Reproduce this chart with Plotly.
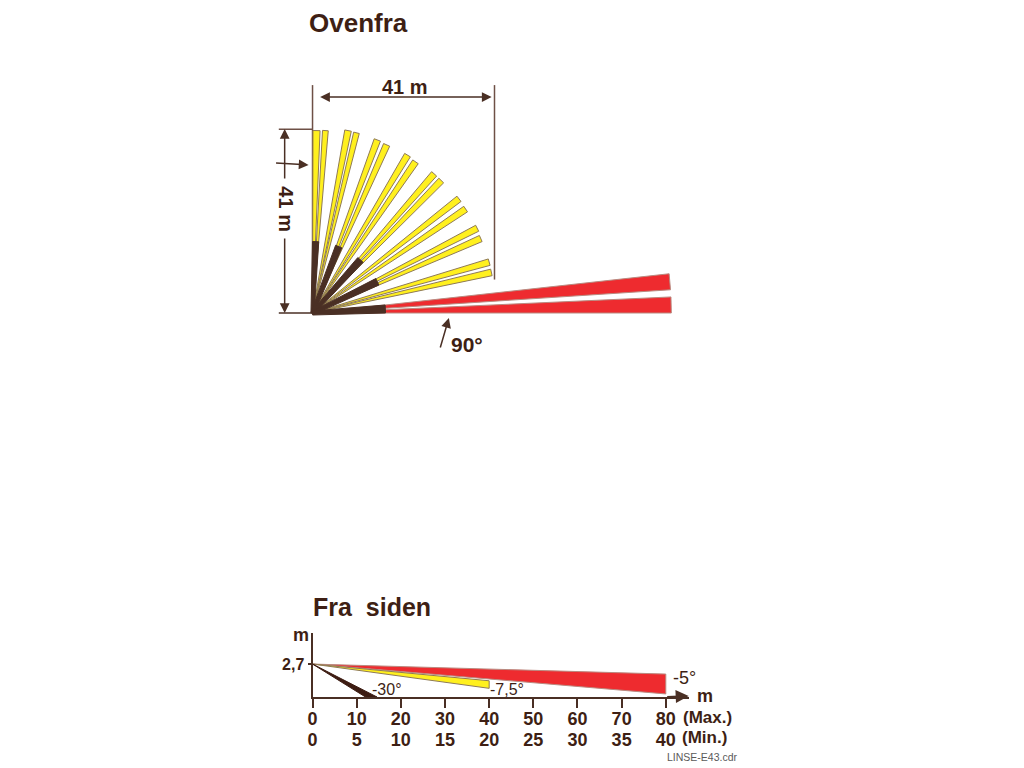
import numpy as np
import plotly.graph_objects as go

# Top view beams, tip centre in metres
yellow_x = [0.9, 2.9, 8.0, 9.9, 14.6, 16.7, 21.4, 23.2, 27.4, 29.0, 33.0, 34.5, 37.1, 37.9, 39.8, 40.3]
yellow_y = [40.9, 40.9, 40.9, 40.4, 38.8, 37.7, 35.4, 33.9, 31.2, 29.7, 25.6, 23.3, 19.0, 16.7, 11.4, 9.1]
yellow_w = [1.6, 1.3, 1.5, 1.3, 1.5, 1.5, 1.5, 1.5, 1.5, 1.5, 1.5, 1.5, 1.5, 1.5, 1.5, 1.5]
red_x = [80.5, 80.8]
red_y = [7.0, 1.8]
red_w = [3.6, 3.6]
dark_x = [0.7, 5.9, 10.8, 14.6, 16.4]
dark_y = [16.0, 14.9, 11.9, 7.0, 0.9]
dark_w = [1.4, 1.5, 1.6, 1.6, 1.8]

# Side view beams
side_x = [80, 40, 14.6]
side_top = [1.88, 1.33, 0.0]
side_bottom = [0.25, 0.71, 0.0]
side_left = [80, 40, 12.0]
side_colors = ["#ee2b2f", "#fff01e", "#3d1c12"]
side_edges = ["#b98a80", "#8f7a55", "#3d1c12"]
mount_height = 2.7

max_ticks = [0, 10, 20, 30, 40, 50, 60, 70, 80]
min_ticks = [0, 5, 10, 15, 20, 25, 30, 35, 40]

DARK = "#4a2f24"
LINE = "#6e5046"
TEXT = "#3e1f14"
FONT = "Liberation Sans"

W, H = 1024, 768
OX, OY = 11, 8  # the page puts the plot a little in from the corner
M = 4.46  # pixels per metre, top view


def beam(x, y, w, color, outline, lw=1, base=0.0):
    x, y = float(x), float(y)
    n = np.hypot(x, y)
    ux, uy = -y / n, x / n
    xs = [base * ux / 2, x + ux * w / 2, x - ux * w / 2, -base * ux / 2, base * ux / 2]
    ys = [base * uy / 2, y + uy * w / 2, y - uy * w / 2, -base * uy / 2, base * uy / 2]
    return go.Scatter(x=xs, y=ys, mode="lines", fill="toself", fillcolor=color,
                      line=dict(color=outline, width=lw), hoverinfo="skip",
                      showlegend=False, xaxis="x", yaxis="y")


fig = go.Figure()

# Dimension lines
for xs, ys in [([0, 0], [0, 51.1]), ([41, 41], [7.5, 51.1]), ([-7.6, 0], [41.2, 41.2])]:
    fig.add_trace(go.Scatter(x=xs, y=ys, mode="lines", line=dict(color=LINE, width=1.5),
                             hoverinfo="skip", showlegend=False, xaxis="x", yaxis="y"))
fig.add_trace(go.Scatter(x=[-7.6, 9.2], y=[0, 0], mode="lines", line=dict(color=DARK, width=1.5),
                         hoverinfo="skip", showlegend=False, xaxis="x", yaxis="y"))

# Beams
for x, y, w in zip(red_x, red_y, red_w):
    fig.add_trace(beam(x, y, w, "#ee2b2f", "#b98a80"))
for x, y, w in zip(yellow_x, yellow_y, yellow_w):
    fig.add_trace(beam(x, y, w, "#fff01e", "#8f7a55"))
for x, y, w in zip(dark_x, dark_y, dark_w):
    fig.add_trace(beam(x, y, w, DARK, DARK, base=w * 0.5))

# Side view
for x, xl, t, b, c, e in zip(side_x, side_left, side_top, side_bottom, side_colors, side_edges):
    fig.add_trace(go.Scatter(x=[0, x, xl, 0], y=[mount_height, t, b, mount_height], mode="lines",
                             fill="toself", fillcolor=c, line=dict(color=e, width=1),
                             hoverinfo="skip", showlegend=False, xaxis="x2", yaxis="y2"))
fig.add_trace(go.Scatter(x=min_ticks, y=[0] * len(min_ticks), mode="none", hoverinfo="skip",
                         showlegend=False, xaxis="x3", yaxis="y2"))

side_scale = 355 / 80
axis_end = 378 / side_scale
tick_font = dict(family=FONT, size=18, color=TEXT, weight="bold")
fig.update_layout(
    width=W, height=H, margin=dict(l=0, r=0, t=0, b=0),
    paper_bgcolor="white", plot_bgcolor="white",
    showlegend=False,
    xaxis=dict(domain=[0, 1], range=[-(312 - OX) / M, (W - 312 + OX) / M], visible=False),
    yaxis=dict(domain=[0, 1], range=[(313 - OY - H) / M, (313 - OY) / M], visible=False),
    xaxis2=dict(domain=[(312 - OX) / W, (690 - OX) / W], range=[0, axis_end], anchor="y2", showgrid=False,
                zeroline=False, showline=True, linecolor=DARK, linewidth=2,
                tickmode="array", tickvals=max_ticks, ticktext=[str(v) for v in max_ticks],
                ticks="outside", ticklen=9, tickwidth=2, tickcolor=DARK, tickfont=tick_font,
                ticklabelstandoff=-5),
    xaxis3=dict(domain=[(312 - OX) / W, (690 - OX) / W], range=[0, axis_end / 2], anchor="y2", overlaying="x2",
                side="bottom", showgrid=False, zeroline=False, showline=False,
                tickmode="array", tickvals=min_ticks, ticktext=[str(v) for v in min_ticks],
                ticks="outside", ticklen=26, tickwidth=1, tickcolor="rgba(0,0,0,0)", tickfont=tick_font),
    yaxis2=dict(domain=[1 - (697 - OY) / H, 1 - (633 - OY) / H], range=[0, 64 / 12.2], anchor="x2", showgrid=False,
                zeroline=False, showline=True, linecolor=DARK, linewidth=2,
                tickmode="array", tickvals=[mount_height], ticktext=["2,7"],
                ticks="outside", ticklen=3, tickwidth=2, tickcolor=DARK,
                tickfont=dict(family=FONT, size=16, color=TEXT, weight="bold")),
)


def label(text, x, y, size, bold=True, color=TEXT, angle=0):
    fig.add_annotation(text=f"<b>{text}</b>" if bold else text, xref="paper", yref="paper",
                       x=(x - OX) / W, y=1 - (y - OY) / H, xanchor="center", yanchor="middle",
                       showarrow=False, textangle=angle,
                       font=dict(family=FONT, size=size, color=color))


def arrow(x0, y0, x1, y1, both=False, color=DARK, width=1.5):
    fig.add_annotation(text="", xref="paper", yref="paper", x=(x1 - OX) / W, y=1 - (y1 - OY) / H,
                       ax=x0 - x1, ay=y0 - y1, axref="pixel", ayref="pixel", showarrow=True,
                       arrowhead=2, arrowsize=1.3, arrowwidth=width, arrowcolor=color,
                       arrowside="end+start" if both else "end")


label("Ovenfra", 358, 23, 26)
label("Fra&nbsp;&nbsp;siden", 372, 607, 25)
label("41 m", 405, 87, 20)
label("41 m", 285, 209, 20, angle=90)
label("90°", 467, 345, 21)
label("m", 300, 635, 18)
label("-30°", 387, 689, 16, bold=False)
label("-7,5°", 507, 689, 16, bold=False)
label("-5°", 686, 678, 18, bold=False)
label("m", 706, 696, 18)
label("(Max.)", 709, 717, 17)
label("(Min.)", 706, 737, 17)
label("LINSE-E43.cdr", 704, 757, 10.5, bold=False, color="#5a5a5a")

arrow(319, 97, 492, 97, both=True)
arrow(284, 180, 284, 129)
arrow(284, 237, 284, 313)
arrow(274, 163, 308, 165)
arrow(440, 349, 449, 318)
arrow(667, 697, 690, 696, width=2)

fig.write_html("out.html")
